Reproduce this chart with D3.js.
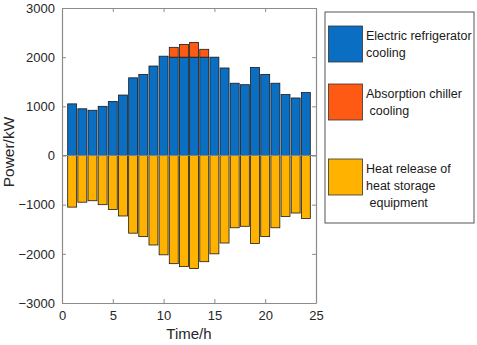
<!DOCTYPE html>
<html>
<head>
<meta charset="utf-8">
<script src="https://cdn.jsdelivr.net/npm/d3@7"></script>
<style>
	body { margin: 0; background: white; }
	text { font-family: "Liberation Sans", Arial, sans-serif; }
</style>
</head>
<body>
<div id="vizContainer"></div>
<script>
let w = 477;
let h = 345;

// data
let hours = d3.range(1, 25);
let electric = [1050, 950, 920, 1000, 1100, 1230, 1580, 1650, 1820, 2020, 2000, 2000,
	2000, 2000, 2000, 1780, 1470, 1440, 1790, 1650, 1470, 1240, 1170, 1280];
let absorption = [0, 0, 0, 0, 0, 0, 0, 0, 0, 0, 200, 260,
	300, 160, 0, 0, 0, 0, 0, 0, 0, 0, 0, 0];
let heatRelease = electric.map((d, i) => -(d + absorption[i]));
let xTicks = [0, 5, 10, 15, 20, 25];
let yTicks = [-3000, -2000, -1000, 0, 1000, 2000, 3000];
let legendLabels = [
	["Electric refrigerator", "cooling"],
	["Absorption chiller", " cooling"],
	["Heat release of", "heat storage", " equipment"]
];
let colors = ["#0a6fc2", "#ff5a14", "#ffb300"];

let plot = { left: 62, right: 316, top: 8, bottom: 303 };

let viz = d3.select("#vizContainer").append("svg")
	.attr("width", w)
	.attr("height", h)
	.style("background-color", "white");

let xScale = d3.scaleLinear().domain([0, 25]).range([plot.left, plot.right]);
let yScale = d3.scaleLinear().domain([-3000, 3000]).range([plot.bottom, plot.top]);
let bw = (xScale(1) - xScale(0)) * 0.88;

let graphGroup = viz.append("g").attr("class", "graphGroup");

// blue bars
graphGroup.selectAll(".elec").data(electric).enter().append("rect")
	.attr("class", "elec")
	.attr("x", (d, i) => xScale(hours[i]) - bw / 2)
	.attr("y", d => yScale(d))
	.attr("width", bw)
	.attr("height", d => yScale(0) - yScale(d))
	.attr("fill", colors[0])
	.attr("stroke", "#1a1a1a")
	.attr("stroke-width", 0.8);

// red bars stacked on top (only hours where absorption runs)
let absData = absorption.map((d, i) => ({ hour: hours[i], base: electric[i], v: d }))
	.filter(d => d.v > 0);
graphGroup.selectAll(".abs").data(absData).enter().append("rect")
	.attr("class", "abs")
	.attr("x", d => xScale(d.hour) - bw / 2)
	.attr("y", d => yScale(d.base + d.v))
	.attr("width", bw)
	.attr("height", d => yScale(0) - yScale(d.v))
	.attr("fill", colors[1])
	.attr("stroke", "#1a1a1a")
	.attr("stroke-width", 0.8);

// yellow bars below zero
graphGroup.selectAll(".heat").data(heatRelease).enter().append("rect")
	.attr("class", "heat")
	.attr("x", (d, i) => xScale(hours[i]) - bw / 2)
	.attr("y", yScale(0))
	.attr("width", bw)
	.attr("height", d => yScale(d) - yScale(0))
	.attr("fill", colors[2])
	.attr("stroke", "#1a1a1a")
	.attr("stroke-width", 0.8);

// zero line
graphGroup.append("line")
	.attr("x1", plot.left).attr("x2", plot.right)
	.attr("y1", yScale(0)).attr("y2", yScale(0))
	.attr("stroke", "#808080").attr("stroke-width", 1.2);

// axes, box style
let axisColor = "#8c8c8c";
let xAxis = viz.append("g")
	.attr("transform", "translate(0," + plot.bottom + ")")
	.call(d3.axisBottom(xScale).tickValues(xTicks).tickSizeInner(-4).tickSizeOuter(0).tickPadding(8).tickFormat(d3.format("d")));
let yAxis = viz.append("g")
	.attr("transform", "translate(" + plot.left + ",0)")
	.call(d3.axisLeft(yScale).tickValues(yTicks).tickSizeInner(-4).tickSizeOuter(0).tickPadding(7).tickFormat(d3.format("d")));
let xTop = viz.append("g")
	.attr("transform", "translate(0," + plot.top + ")")
	.call(d3.axisTop(xScale).tickValues(xTicks).tickSizeInner(-4).tickSizeOuter(0).tickFormat(""));
let yRight = viz.append("g")
	.attr("transform", "translate(" + plot.right + ",0)")
	.call(d3.axisRight(yScale).tickValues(yTicks).tickSizeInner(-4).tickSizeOuter(0).tickFormat(""));

[xAxis, yAxis, xTop, yRight].forEach(function (a) {
	a.select(".domain").attr("stroke", axisColor).attr("stroke-width", 1.2);
	a.selectAll(".tick line").attr("stroke", axisColor);
	a.selectAll(".tick text")
		.attr("fill", "#262626")
		.style("font-size", "13px")
		.style("font-family", "'Liberation Sans', Arial, sans-serif");
});

viz.append("text")
	.attr("x", (plot.left + plot.right) / 2)
	.attr("y", 339)
	.attr("text-anchor", "middle")
	.attr("fill", "#262626")
	.style("font-size", "15px")
	.text("Time/h");

viz.append("text")
	.attr("transform", "translate(14,152) rotate(-90)")
	.attr("text-anchor", "middle")
	.attr("fill", "#262626")
	.style("font-size", "15.5px")
	.text("Power/kW");

// legend
let legend = viz.append("g").attr("class", "legend");
legend.append("rect")
	.attr("x", 325).attr("y", 12)
	.attr("width", 149).attr("height", 211)
	.attr("fill", "white")
	.attr("stroke", "#555")
	.attr("stroke-width", 1);

let patchY = [26, 84, 159];
legendLabels.forEach(function (lines, i) {
	legend.append("rect")
		.attr("x", 328.5).attr("y", patchY[i])
		.attr("width", 34).attr("height", 36)
		.attr("fill", colors[i])
		.attr("stroke", "#333")
		.attr("stroke-width", 0.8);
	let t = legend.append("text")
		.attr("x", 366)
		.attr("y", patchY[i] + 14)
		.attr("fill", "#1a1a1a")
		.style("font-size", "12.5px")
		.style("white-space", "pre");
	lines.forEach(function (l, j) {
		t.append("tspan")
			.attr("x", 366)
			.attr("dy", j === 0 ? 0 : 17)
			.attr("xml:space", "preserve")
			.text(l);
	});
});
</script>
</body>
</html>
